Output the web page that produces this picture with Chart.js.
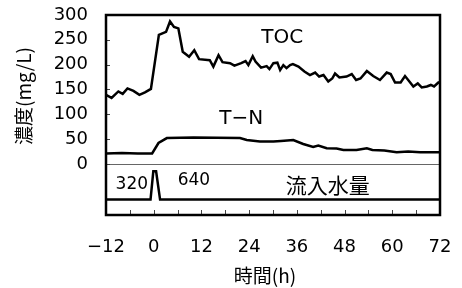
<!DOCTYPE html>
<html>
<head>
<meta charset="utf-8">
<script src="https://cdn.jsdelivr.net/npm/chart.js@4"></script>
<style>
  body { margin: 0; background: #fff; }
  canvas { display: block; }
</style>
</head>
<body>
<canvas id="chart" width="462" height="288"></canvas>
<script>
// TOC (mg/L) vs time (h)
const tocHours = [-12, -10.6, -8.9, -7.8, -6.6, -5.1, -3.6, -2.2, -0.7,
  1.3, 3.1, 4.1, 5.1, 6.2, 7.3, 8.9, 10.2, 11.4,
  14.1, 15, 16.3, 17.3, 19.2, 20.3, 22, 23.1, 23.8,
  24.9, 25.6, 27, 28.4, 29.1, 30.1, 31.1, 31.8, 32.6,
  33.4, 34.3, 35, 36.4, 37.9, 39.3, 40.6, 41.6, 42.7,
  43.9, 44.9, 45.6, 46.7, 48.5, 49.8, 50.9, 52, 53.6,
  55.2, 56.9, 58.6, 59.6, 60.7, 62.1, 63.2, 64.3, 65.3,
  66.4, 67.4, 68.7, 69.7, 70.5, 71.6, 72];
const tocValues = [139, 133, 146, 141, 152, 147, 139, 144, 151,
  260, 266, 287, 276, 273, 226, 216, 229, 211,
  209, 196, 219, 205, 203, 198, 203, 207, 199,
  217, 206, 194, 197, 191, 203, 204, 189, 199,
  193, 199, 201, 196, 186, 179, 184, 176, 179,
  166, 172, 182, 174, 176, 181, 169, 172, 187,
  177, 169, 184, 181, 164, 164, 177, 166, 156,
  162, 154, 156, 159, 156, 164, 163];

// T-N (mg/L)
const tnHours = [-12, -8, -4, -0.4, 1.2, 3.3, 10, 21.7, 23.4,
  26.7, 30.1, 32, 35.1, 37.6, 40.1, 41.4, 43.5, 46,
  47.7, 51, 53.6, 55, 58, 61.1, 64, 67, 72];
const tnValues = [21, 22, 21, 21, 42, 52, 53, 52, 48,
  45, 45, 46, 48, 40, 34, 37, 31.5, 31,
  28, 28, 31.5, 28, 27, 23.5, 25, 23.5, 23.5];

// inflow trace drawn in the lower band
const flowHours = [-12, -0.8, -0.1, 0.6, 1.6, 72];
const flowValues = [-72, -72, -15, -15, -72, -72];

const yTickValues = [0, 50, 100, 150, 200, 250, 300];
const xTickValues = [-12, 0, 12, 24, 36, 48, 60, 72];
const xMinorTicks = [-12, -6, 0, 6, 12, 18, 24, 30, 36, 42, 48, 54, 60, 66, 72];

// text labels placed in data coordinates
const labels = [
  { text: 'TOC', x: 32.3, y: 255, font: '20px "DejaVu Sans"' },
  { text: 'T−N', x: 22, y: 91, font: '20px "DejaVu Sans"' },
  { text: '320', x: -5.5, y: -42, font: '17px "DejaVu Sans"' },
  { text: '640', x: 10.1, y: -34, font: '17px "DejaVu Sans"' },
  { text: '流入水量', x: 43.8, y: -42, font: '21px "Noto Sans CJK JP"' }
];

const toPoints = (xs, ys) => xs.map((x, i) => ({ x: x, y: ys[i] }));

const decor = {
  id: 'decor',
  beforeDatasetsDraw(chart) {
    const { ctx, chartArea: a, scales: { x, y } } = chart;
    ctx.save();
    // zero line
    const y0 = Math.round(y.getPixelForValue(0)) + 0.5;
    ctx.strokeStyle = '#666';
    ctx.lineWidth = 1;
    ctx.beginPath();
    ctx.moveTo(a.left, y0);
    ctx.lineTo(a.right, y0);
    ctx.stroke();
    // inward tick marks
    ctx.strokeStyle = '#444';
    yTickValues.forEach(v => {
      const py = Math.round(y.getPixelForValue(v)) + 0.5;
      ctx.beginPath();
      ctx.moveTo(a.left, py);
      ctx.lineTo(a.left + 4, py);
      ctx.stroke();
    });
    xMinorTicks.forEach(v => {
      const px = Math.round(x.getPixelForValue(v)) + 0.5;
      ctx.beginPath();
      ctx.moveTo(px, a.bottom);
      ctx.lineTo(px, a.bottom - 5);
      ctx.stroke();
    });
    ctx.restore();
  },
  afterDatasetsDraw(chart) {
    const { ctx, chartArea: a, scales: { x, y } } = chart;
    ctx.save();
    // frame
    ctx.strokeStyle = '#000';
    ctx.lineWidth = 2.5;
    ctx.strokeRect(a.left, a.top, a.right - a.left, a.bottom - a.top);
    // labels
    ctx.fillStyle = '#000';
    ctx.textAlign = 'center';
    ctx.textBaseline = 'middle';
    labels.forEach(l => {
      ctx.font = l.font;
      ctx.fillText(l.text, x.getPixelForValue(l.x), y.getPixelForValue(l.y));
    });
    // axis titles
    ctx.font = '19px "Noto Sans CJK JP"';
    ctx.fillText('時間(h)', 265, 276);
    ctx.translate(24, 96);
    ctx.rotate(-Math.PI / 2);
    ctx.fillText('濃度(mg/L)', 0, 0);
    ctx.restore();
  }
};

const lineStyle = {
  borderColor: '#000',
  borderWidth: 2.5,
  pointRadius: 0,
  tension: 0,
  fill: false
};

new Chart(document.getElementById('chart'), {
  type: 'line',
  data: {
    datasets: [
      Object.assign({ label: 'TOC', data: toPoints(tocHours, tocValues) }, lineStyle),
      Object.assign({ label: 'T-N', data: toPoints(tnHours, tnValues) }, lineStyle),
      Object.assign({ label: '流入水量', data: toPoints(flowHours, flowValues) }, lineStyle)
    ]
  },
  options: {
    responsive: false,
    animation: false,
    layout: { padding: { top: 15, right: 22, left: 0, bottom: 0 } },
    plugins: {
      legend: { display: false },
      tooltip: { enabled: false }
    },
    scales: {
      x: {
        type: 'linear',
        min: -12,
        max: 72,
        afterBuildTicks: s => { s.ticks = xTickValues.map(v => ({ value: v })); },
        afterFit: s => { s.height = 73; s.paddingLeft = 0; s.paddingRight = 0; },
        grid: { display: false, drawTicks: false },
        border: { display: false },
        ticks: {
          padding: 22,
          color: '#000',
          maxRotation: 0,
          font: { family: 'DejaVu Sans', size: 18 },
          callback: v => (v < 0 ? '−' + Math.abs(v) : String(v))
        }
      },
      y: {
        type: 'linear',
        min: -103,
        max: 300,
        afterBuildTicks: s => { s.ticks = yTickValues.map(v => ({ value: v })); },
        afterFit: s => { s.width = 106; s.paddingTop = 0; s.paddingBottom = 0; },
        grid: { display: false, drawTicks: false },
        border: { display: false },
        ticks: {
          padding: 18,
          color: '#000',
          font: { family: 'DejaVu Sans', size: 18 }
        }
      }
    }
  },
  plugins: [decor]
});
</script>
</body>
</html>
